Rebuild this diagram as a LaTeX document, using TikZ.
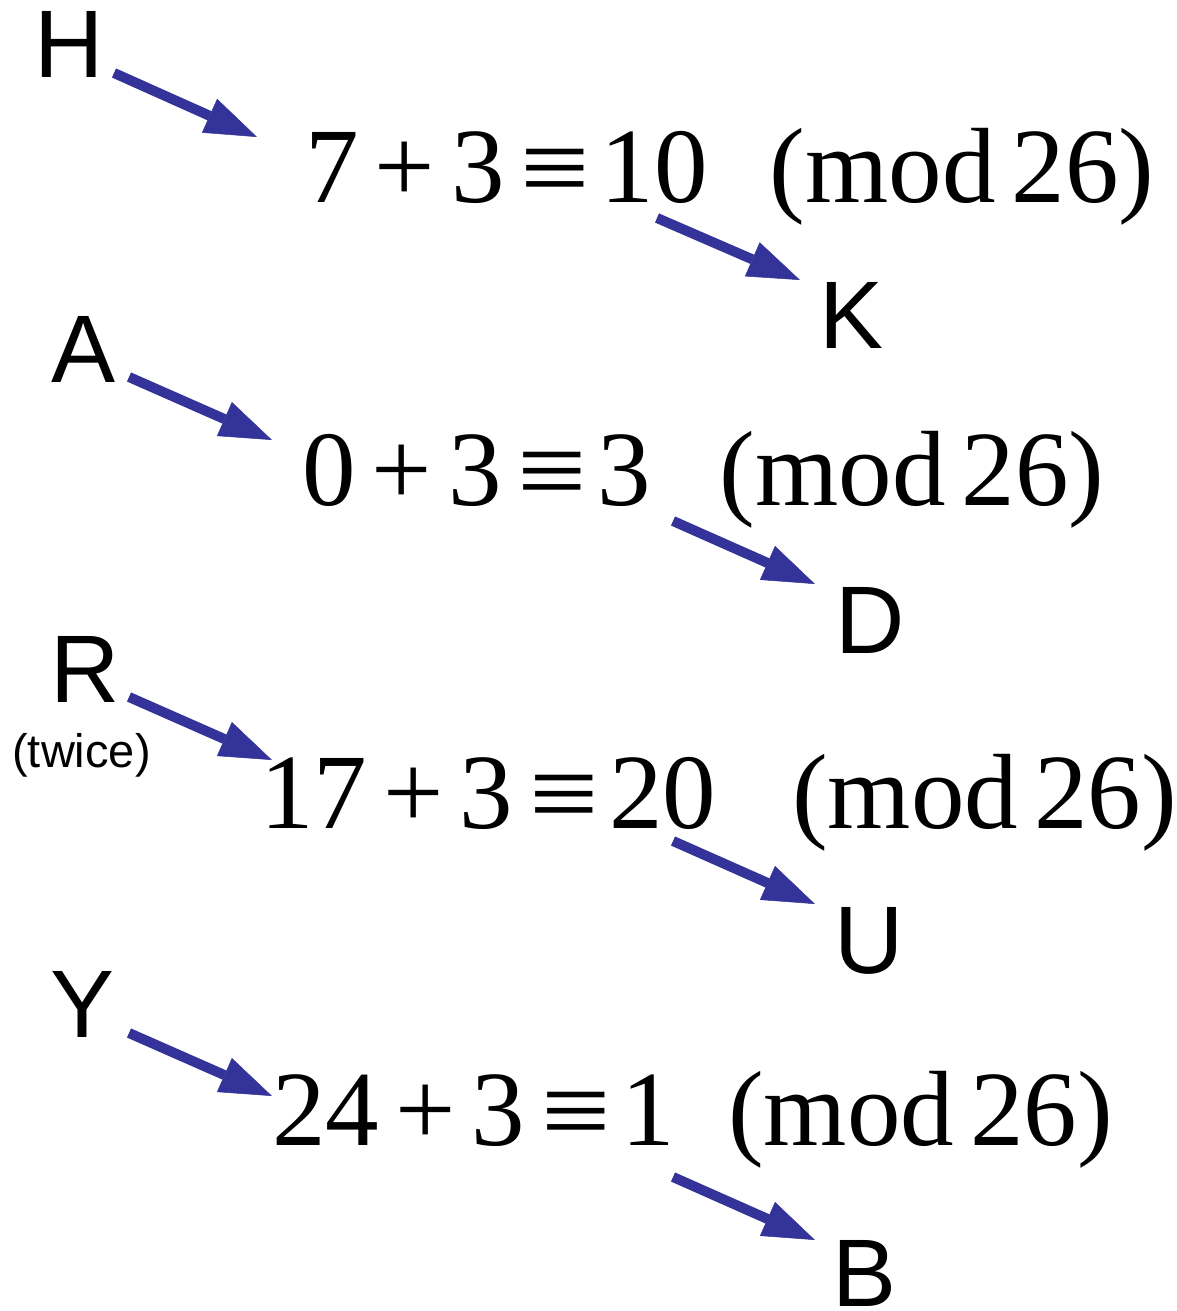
\documentclass[tikz,border=0pt]{standalone}
\usepackage{graphicx}
\usepackage{fontspec}
\setsansfont{Liberation Sans}
\newfontfamily\lserif{Liberation Serif}
\usetikzlibrary{arrows.meta}
\definecolor{arrowblue}{RGB}{51,51,153}
\tikzset{
  letter/.style={inner sep=0pt, anchor=base, font=\sffamily\fontsize{96}{100}\selectfont},
  small/.style={inner sep=0pt, anchor=base, font=\sffamily\fontsize{47}{50}\selectfont},
  eqn/.style={inner sep=0pt, anchor=base west, font=\lserif\fontsize{107}{110}\selectfont},
  conn/.style={draw=arrowblue, line width=10pt, -{Triangle[length=52pt, width=37pt, line width=0.5pt]}},
}
\newcommand{\eqa}{\hspace{0.15em}}
\newcommand{\eqb}{\hspace{0.1em}}
\newcommand{\eqv}{\raisebox{-3pt}{\scalebox{1.15}[1.05]{≡}}}
\begin{document}
\begin{tikzpicture}[x=1pt, y=-1pt]
\useasboundingbox (0,0) rectangle (1176,1311);
% row 1
\node[letter] (H) at (69.5,78) {H};
\node[eqn] (e1) at (305,202) {7\eqa+\eqa3\eqa\eqv\eqb10\hspace{0.58em}(mod\eqa26)};
\node[letter] (K) at (852,348) {K};
% row 2
\node[letter] (A) at (83.5,382) {A};
\node[eqn] (e2) at (302,505) {0\eqa+\eqa3\eqa\eqv\eqb3\hspace{0.64em}(mod\eqa26)};
\node[letter] (D) at (870,653) {D};
% row 3
\node[letter] (R) at (85,702) {R};
\node[small] (tw) at (81.5,767) {(twice)};
\node[eqn] (e3) at (260,828) {17\eqa+\eqa3\eqa\eqv\eqb20\hspace{0.71em}(mod\eqa26)};
\node[letter] (U) at (869,973) {U};
% row 4
\node[letter] (Y) at (82.5,1037) {Y};
\node[eqn] (e4) at (272,1145) {24\eqa+\eqa3\eqa\eqv\eqb1\hspace{0.5em}(mod\eqa26)};
\node[letter] (B) at (865,1306) {B};
% connector ends
\coordinate (a1s) at (114,73);  \coordinate (a1e) at (257,137);
\coordinate (a2s) at (657,218); \coordinate (a2e) at (800,280);
\coordinate (a3s) at (129,377); \coordinate (a3e) at (272,440);
\coordinate (a4s) at (673,521); \coordinate (a4e) at (815,584);
\coordinate (a5s) at (129,697); \coordinate (a5e) at (272,760);
\coordinate (a6s) at (673,841); \coordinate (a6e) at (815,904);
\coordinate (a7s) at (129,1033); \coordinate (a7e) at (272,1096);
\coordinate (a8s) at (673,1177); \coordinate (a8e) at (815,1240);
\foreach \i in {1,...,8} { \draw[conn] (a\i s) -- (a\i e); }
\end{tikzpicture}
\end{document}
